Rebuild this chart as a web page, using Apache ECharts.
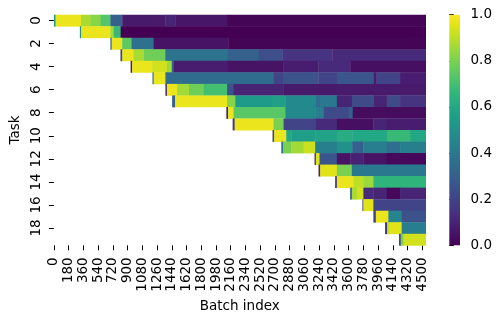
<!DOCTYPE html>
<html><head><meta charset="utf-8">
<script src="https://cdn.jsdelivr.net/npm/echarts@6/dist/echarts.min.js"></script>
<style>html,body{margin:0;padding:0;background:#fff}#c{width:501px;height:321px}</style>
</head><body><div id="c"></div>
<script>
const tasks = ['0','1','2','3','4','5','6','7','8','9','10','11','12','13','14','15','16','17','18','19'];
const batchTicks = [0,180,360,540,720,900,1080,1260,1440,1620,1800,1980,2160,2340,2520,2700,2880,3060,3240,3420,3600,3780,3960,4140,4320,4500];
const nBatches = 4540;
const colorbarTicks = [0,0.2,0.4,0.6,0.8,1.0];
const viridis = ['#440154','#471365','#482475','#463480','#414487','#3b528b','#355f8d','#2f6c8e','#2a788e','#25848e','#21918c','#1e9c89','#22a884','#2fb47c','#44bf70','#5ec962','#7ad151','#9bd93c','#bddf26','#dfe318','#fde725'];

// segments per task: [startBatch, endBatch, value]
const row0 = [[0,20,0.55],[20,330,0.97],[330,450,0.87],[450,570,0.82],[570,690,0.73],[690,835,0.31],[835,1360,0.07],[1360,1484,0.1],[1484,2115,0.06],[2115,4540,0.01]];
const row1 = [[317,332,0.5],[332,690,0.97],[690,730,0.86],[730,815,0.67],[815,4540,0.0]];
const row2 = [[690,705,0.3],[705,834,0.97],[834,948,0.75],[948,1215,0.37],[1215,2130,0.05],[2130,4540,0.01]];
const row3 = [[813,835,0.2],[835,972,0.97],[972,1100,0.87],[1100,1360,0.78],[1360,2115,0.38],[2115,2500,0.31],[2500,2790,0.24],[2790,3400,0.15],[3400,4540,0.12]];
const row4 = [[937,955,0.08],[955,1200,0.97],[1200,1380,0.93],[1380,1440,0.85],[1440,1465,0.3],[1465,2115,0.08],[2115,2800,0.05],[2800,3230,0.08],[3230,3620,0.12],[3620,4540,0.04]];
const row5 = [[1204,1218,0.35],[1218,1362,0.97],[1362,2683,0.35],[2683,2805,0.2],[2805,3230,0.25],[3230,3456,0.2],[3456,3902,0.26],[3902,3940,0.08],[3940,4228,0.2],[4228,4540,0.08]];
const row6 = [[1362,1380,0.1],[1380,1505,0.97],[1505,1650,0.86],[1650,1826,0.78],[1826,2115,0.7],[2115,2195,0.25],[2195,2800,0.1],[2800,4540,0.07]];
const row7 = [[1444,1480,0.3],[1480,2115,0.97],[2115,2215,0.82],[2215,2663,0.55],[2663,2826,0.57],[2826,3191,0.47],[3191,3250,0.35],[3250,3456,0.4],[3456,3640,0.1],[3640,3902,0.22],[3902,4066,0.1],[4066,4228,0.22],[4228,4540,0.15]];
const row8 = [[2106,2127,0.1],[2127,2195,0.97],[2195,2826,0.74],[2826,3191,0.47],[3191,3290,0.42],[3290,3600,0.22],[3600,3650,0.3],[3650,4540,0.03]];
const row9 = [[2183,2207,0.15],[2207,2683,0.97],[2683,2805,0.8],[2805,3191,0.2],[3191,3456,0.12],[3456,3902,0.04],[3902,4066,0.1],[4066,4540,0.08]];
const row10 = [[2670,2690,0.2],[2690,2838,0.97],[2838,2900,0.6],[2900,3191,0.56],[3191,3456,0.58],[3456,3643,0.62],[3643,4066,0.6],[4066,4350,0.67],[4350,4540,0.6]];
const row11 = [[2777,2800,0.4],[2800,2900,0.8],[2900,3050,0.86],[3050,3191,0.92],[3191,3456,0.43],[3456,3643,0.5],[3643,3780,0.3],[3780,4066,0.42],[4066,4228,0.36],[4228,4540,0.43]];
const row12 = [[3183,3200,0.15],[3200,3244,0.95],[3244,3456,0.26],[3456,3620,0.05],[3620,3780,0.09],[3780,4066,0.05],[4066,4540,0.02]];
const row13 = [[3232,3252,0.1],[3252,3456,0.95],[3456,3639,0.8],[3639,4540,0.4]];
const row14 = [[3435,3456,0.15],[3456,3659,0.97],[3659,3780,0.9],[3780,3902,0.85],[3902,4540,0.65]];
const row15 = [[3618,3639,0.3],[3639,3700,0.87],[3700,3780,0.93],[3780,3900,0.12],[3900,4066,0.1],[4066,4228,0.02],[4228,4540,0.1]];
const row16 = [[3768,3780,0.2],[3780,3902,0.95],[3902,4540,0.2]];
const row17 = [[3902,3932,0.2],[3932,4085,0.97],[4085,4248,0.45],[4248,4540,0.25]];
const row18 = [[4045,4070,0.15],[4070,4094,0.9],[4094,4248,0.95],[4248,4540,0.42]];
const row19 = [[4216,4235,0.15],[4235,4270,0.8],[4270,4540,0.93]];
const rows = [row0,row1,row2,row3,row4,row5,row6,row7,row8,row9,row10,row11,row12,row13,row14,row15,row16,row17,row18,row19];

const cells = [];
rows.forEach((segs, r) => segs.forEach(s => cells.push([s[0], s[1], r, s[2]])));

const chart = echarts.init(document.getElementById('c'), null, {renderer: 'canvas'});
const font = 'DejaVu Sans';
const fs = 13.5;
chart.setOption({
  animation: false,
  textStyle: {fontFamily: font},
  visualMap: {type: 'continuous', show: false, min: 0, max: 1, dimension: 3, seriesIndex: 0, inRange: {color: viridis}},
  grid: [
    {left: 53.3, top: 14.7, width: 372.3, height: 230.6},
    {left: 449.3, top: 14.7, width: 10.7, height: 230.6}
  ],
  xAxis: [
    {type: 'value', gridIndex: 0, min: 0, max: nBatches, position: 'bottom',
     axisLine: {show: false}, splitLine: {show: false},
     axisTick: {show: true, customValues: batchTicks, length: 5, lineStyle: {color: '#000', width: 1}},
     axisLabel: {customValues: batchTicks, formatter: v => String(v), rotate: 90, fontSize: fs, color: '#000', margin: 12, fontFamily: font},
     name: 'Batch index', nameLocation: 'middle', nameGap: 50,
     nameTextStyle: {fontSize: fs, color: '#000', fontFamily: font}},
    {type: 'value', gridIndex: 1, min: 0, max: 1, show: false}
  ],
  yAxis: [
    {type: 'category', gridIndex: 0, data: tasks, inverse: true,
     axisLine: {show: false}, splitLine: {show: false},
     axisTick: {show: true, interval: 1, alignWithLabel: true, length: 5, lineStyle: {color: '#000', width: 1}},
     axisLabel: {interval: 1, rotate: 90, fontSize: fs, color: '#000', margin: 10, fontFamily: font},
     name: 'Task', nameLocation: 'middle', nameGap: 30, nameRotate: 90,
     nameTextStyle: {fontSize: fs, color: '#000', fontFamily: font}},
    {type: 'value', gridIndex: 1, min: 0, max: 1, interval: 0.2, position: 'right',
     axisLine: {show: false}, splitLine: {show: false},
     axisTick: {show: true, length: 4.5, lineStyle: {color: '#000', width: 1}},
     axisLabel: {customValues: colorbarTicks, formatter: v => v.toFixed(1), fontSize: fs, color: '#000', margin: 10.5, fontFamily: font}}
  ],
  series: [
    {type: 'custom', xAxisIndex: 0, yAxisIndex: 0, data: cells,
     encode: {x: [0, 1], y: 2},
     renderItem: function (params, api) {
       const p1 = api.coord([api.value(0), api.value(2)]);
       const p2 = api.coord([api.value(1), api.value(2)]);
       const h = api.size([0, 1])[1];
       return {type: 'rect',
         shape: {x: p1[0], y: p1[1] - h / 2, width: p2[0] - p1[0] + 0.4, height: h + 0.4},
         style: {fill: api.visual('color')}};
     }},
    {type: 'custom', xAxisIndex: 1, yAxisIndex: 1, data: [[0, 0]],
     encode: {x: 0, y: 1},
     renderItem: function (params, api) {
       const a = api.coord([0, 0]);
       const b = api.coord([1, 1]);
       const stops = viridis.map((c, i) => ({offset: i / (viridis.length - 1), color: c}));
       return {type: 'rect',
         shape: {x: a[0], y: b[1], width: b[0] - a[0], height: a[1] - b[1]},
         style: {fill: new echarts.graphic.LinearGradient(0, 1, 0, 0, stops)}};
     }}
  ]
});
</script>
</body></html>
